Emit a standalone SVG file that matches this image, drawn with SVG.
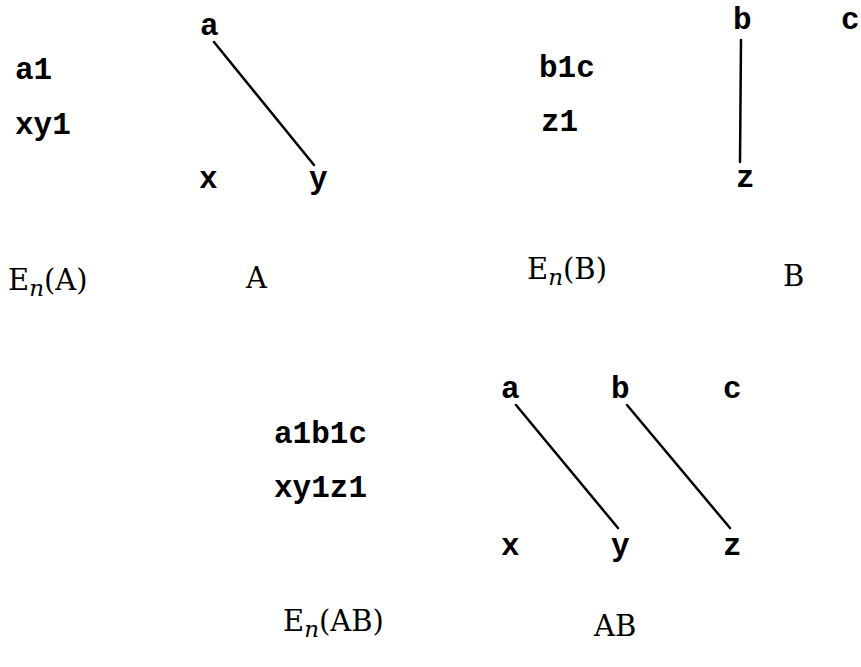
<svg xmlns="http://www.w3.org/2000/svg" width="861" height="667" viewBox="0 0 861 667">
<style>
.m{font-family:"Liberation Mono","Courier New",monospace;font-weight:bold;font-size:31px;fill:#000}
.s{font-family:"DejaVu Serif","Liberation Serif",serif;font-size:29px;fill:#000}
.sub{font-style:italic;font-size:23px}
.e{stroke:#000;stroke-width:2.5;fill:none;stroke-linecap:round}
</style>
<rect width="861" height="667" fill="#fff"/>
<g id="connectors">
<line class="e" x1="214" y1="42" x2="314" y2="165"/>
<line class="e" x1="741" y1="40" x2="740" y2="162"/>
<line class="e" x1="516" y1="405" x2="618" y2="528"/>
<line class="e" x1="627" y1="405" x2="730" y2="528"/>
</g>
<g id="EnA-text"><text class="m" x="15" y="79">a1</text><text class="m" x="15" y="134">xy1</text></g>
<g id="A-a"><text class="m" x="200" y="35">a</text></g>
<g id="A-x"><text class="m" x="199" y="188">x</text></g>
<g id="A-y"><text class="m" x="309" y="188">y</text></g>
<g id="EnB-text"><text class="m" x="539" y="77">b1c</text><text class="m" x="541" y="131">z1</text></g>
<g id="B-b"><text class="m" x="733" y="29">b</text></g>
<g id="B-c"><text class="m" x="841" y="29">c</text></g>
<g id="B-z"><text class="m" x="736" y="187">z</text></g>
<g id="label-EnA"><text class="s" x="8" y="290">E<tspan class="sub" dy="6">n</tspan><tspan dy="-6">(A)</tspan></text></g>
<g id="label-A"><text class="s" x="246" y="288">A</text></g>
<g id="label-EnB"><text class="s" x="527" y="279">E<tspan class="sub" dy="6">n</tspan><tspan dy="-6">(B)</tspan></text></g>
<g id="label-B"><text class="s" x="783" y="286">B</text></g>
<g id="EnAB-text"><text class="m" x="274" y="443">a1b1c</text><text class="m" x="274" y="497">xy1z1</text></g>
<g id="AB-a"><text class="m" x="501" y="398">a</text></g>
<g id="AB-b"><text class="m" x="611" y="398">b</text></g>
<g id="AB-c"><text class="m" x="723" y="398">c</text></g>
<g id="AB-x"><text class="m" x="501" y="555">x</text></g>
<g id="AB-y"><text class="m" x="611" y="555">y</text></g>
<g id="AB-z"><text class="m" x="723" y="555">z</text></g>
<g id="label-EnAB"><text class="s" x="283" y="631">E<tspan class="sub" dy="6">n</tspan><tspan dy="-6">(AB)</tspan></text></g>
<g id="label-AB"><text class="s" x="594" y="636">AB</text></g>
</svg>
